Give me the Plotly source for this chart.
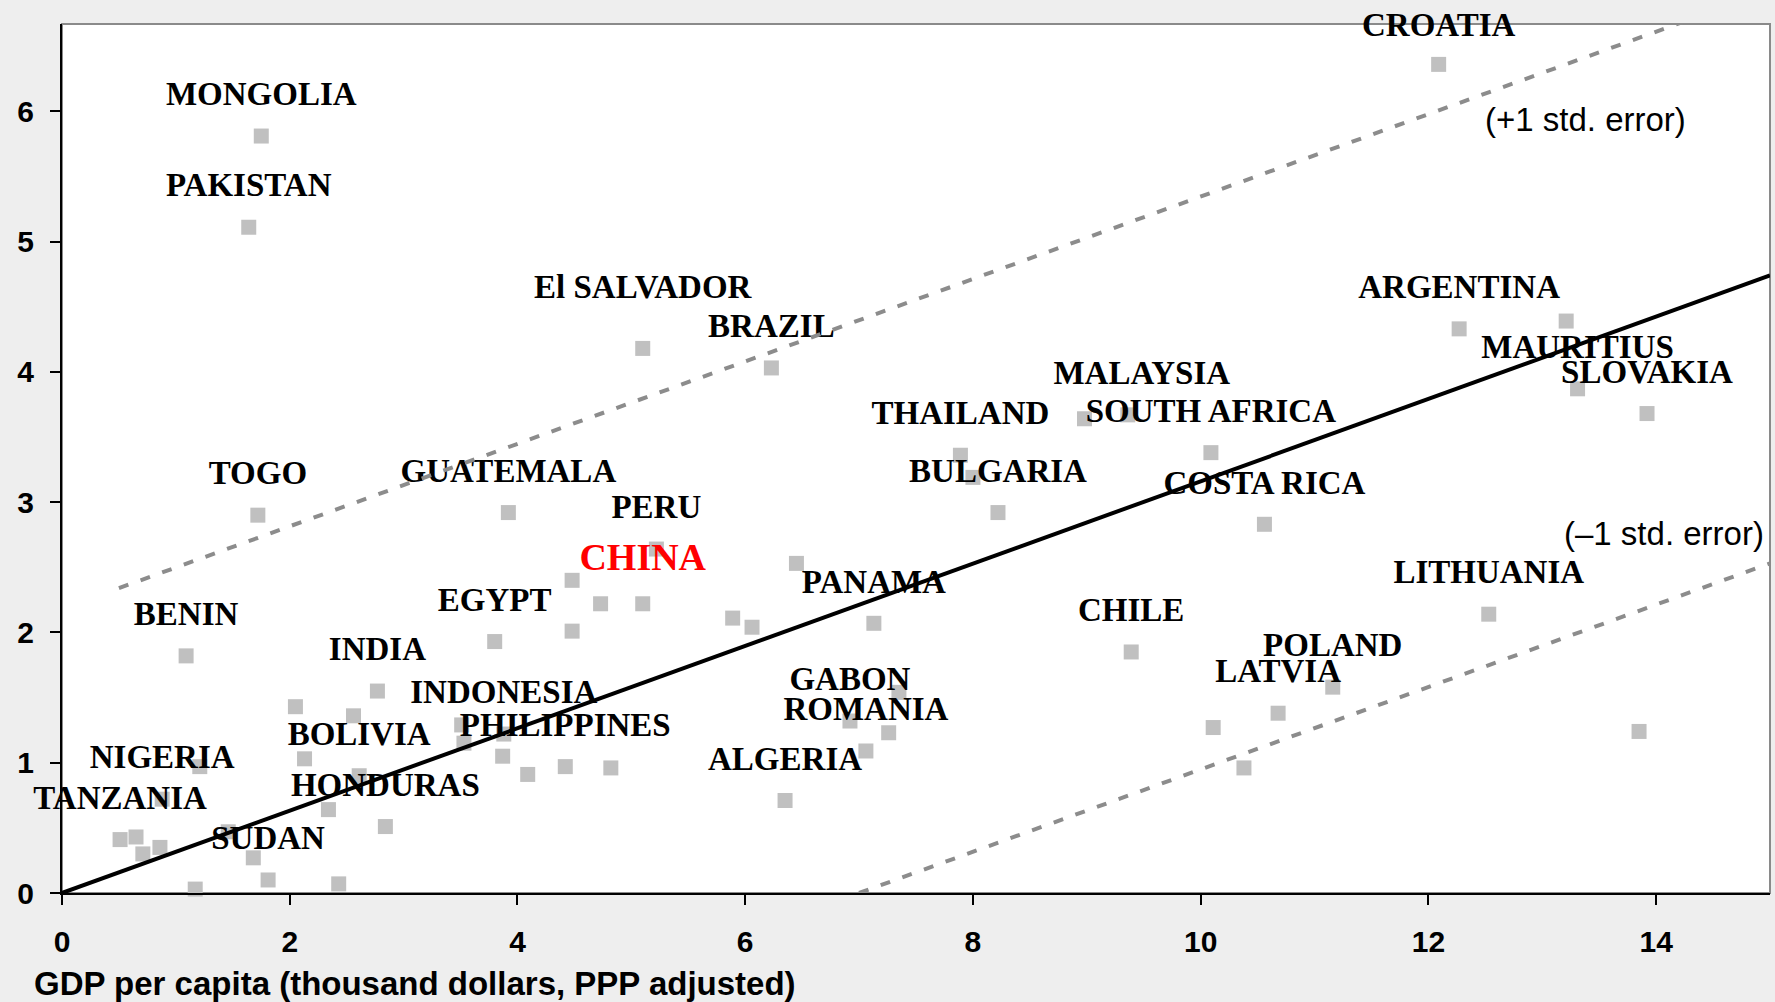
import plotly.graph_objects as go

# ---------------- data ----------------
countries = [
    "MONGOLIA", "PAKISTAN", "El SALVADOR", "BRAZIL", "CROATIA", "ARGENTINA",
    "MAURITIUS", "SLOVAKIA", "MALAYSIA", "THAILAND", "SOUTH AFRICA", "BULGARIA",
    "COSTA RICA", "TOGO", "GUATEMALA", "PERU", "CHINA", "EGYPT", "PANAMA",
    "CHILE", "LITHUANIA", "BENIN", "INDIA", "INDONESIA", "PHILIPPINES",
    "BOLIVIA", "GABON", "ROMANIA", "POLAND", "LATVIA", "ALGERIA", "NIGERIA",
    "TANZANIA", "HONDURAS", "SUDAN",
    "", "", "", "", "", "", "", "", "", "", "", "", "", "", "", "", "", "",
    "", "", "", "", "", "", "", "", "", "", "", "", "",
]
gdp_per_capita = [
    1.75, 1.64, 5.10, 6.23, 12.09, 12.27,
    13.31, 13.92, 9.36, 7.89, 10.09, 8.22,
    10.56, 1.72, 3.92, 5.22, 5.10, 3.80, 7.13,
    9.39, 12.53, 1.09, 2.77, 3.88, 4.42,
    2.61, 6.92, 7.06, 11.16, 10.68, 6.35, 0.88,
    0.51, 2.84, 1.81,
    13.21, 8.98, 8.00, 4.48, 4.73, 4.48, 5.89, 6.06, 6.45, 7.35, 7.26, 2.05,
    2.56, 2.13, 3.51, 3.53, 3.87, 4.09, 4.82, 2.34, 1.21, 0.65, 0.71, 0.86,
    1.68, 2.43, 1.17, 1.46, 10.11, 10.38, 13.85,
]
growth_value = [
    5.81, 5.11, 4.18, 4.03, 6.36, 4.33,
    3.87, 3.68, 3.67, 3.36, 3.38, 2.92,
    2.83, 2.90, 2.92, 2.64, 2.22, 1.93, 2.07,
    1.85, 2.14, 1.82, 1.55, 1.22, 0.97,
    0.90, 1.32, 1.09, 1.58, 1.38, 0.71, 0.72,
    0.41, 0.51, 0.10,
    4.39, 3.64, 3.19, 2.40, 2.22, 2.01, 2.11, 2.04, 2.53, 1.54, 1.23, 1.43,
    1.36, 1.03, 1.29, 1.15, 1.05, 0.91, 0.96, 0.64, 0.97, 0.43, 0.30, 0.35,
    0.27, 0.07, 0.03, 0.47, 1.27, 0.96, 1.24,
]

fit_x = [0.0, 15.0]
fit_y = [0.0, 4.74]
upper_x = [0.50, 14.25]
upper_y = [2.34, 6.69]
lower_x = [7.00, 15.0]
lower_y = [0.00, 2.53]

x_ticks = [0, 2, 4, 6, 8, 10, 12, 14]
y_ticks = [0, 1, 2, 3, 4, 5, 6]
x_title = "GDP per capita (thousand dollars, PPP adjusted)"
upper_note = "(+1 std. error)"
lower_note = "(\u20131 std. error)"
highlight = "CHINA"

# ---------------- layout constants ----------------
W, H = 1775, 1002
M_L, M_R, M_T, M_B = 62, 5, 24, 109
X_RANGE = [0, 15.0]
Y_RANGE = [0, 6.67]
PX_PER_X = (W - M_L - M_R) / (X_RANGE[1] - X_RANGE[0])
PX_PER_Y = (H - M_T - M_B) / (Y_RANGE[1] - Y_RANGE[0])

LABEL_SHIFT_PX = 39
label_shift_exceptions = {"El SALVADOR": 59, "CHINA": 43}
label_xshift_exceptions = {"MALAYSIA": 14}
LABEL_FONT = "Liberation Serif"


def label_font(c):
    return dict(family=LABEL_FONT, size=38 if c == highlight else 33,
                color="#ff0000" if c == highlight else "#000000", weight="bold")


# labels inside the axis range go into a text trace (so the lines are drawn over
# them, as in the reference); any label above the range becomes an annotation
in_x, in_y, in_t, in_c, in_s = [], [], [], [], []
out_labels = []
for c, gx, gy in zip(countries, gdp_per_capita, growth_value):
    if not c:
        continue
    dy = label_shift_exceptions.get(c, LABEL_SHIFT_PX)
    dx = label_xshift_exceptions.get(c, 0)
    ly = gy + dy / PX_PER_Y
    if ly < Y_RANGE[1] - 0.02:
        in_x.append(gx + dx / PX_PER_X)
        in_y.append(ly)
        in_t.append(c)
        in_c.append(label_font(c)["color"])
        in_s.append(label_font(c)["size"])
    else:
        out_labels.append((c, gx, gy, dx, dy))

fig = go.Figure()

fig.add_trace(go.Scatter(
    x=gdp_per_capita, y=growth_value, mode="markers",
    marker=dict(symbol="square", size=15, color="#c0c0c0", line=dict(width=0)),
    cliponaxis=False, hoverinfo="skip", showlegend=False,
))

fig.add_trace(go.Scatter(
    x=in_x, y=in_y, mode="text", text=in_t,
    textposition="middle center",
    textfont=dict(family=LABEL_FONT, size=in_s, color=in_c, weight="bold"),
    cliponaxis=False, hoverinfo="skip", showlegend=False,
))

fig.add_trace(go.Scatter(
    x=upper_x, y=upper_y, mode="lines",
    line=dict(color="#8c8c8c", width=4, dash="10px,13px"),
    hoverinfo="skip", showlegend=False,
))
fig.add_trace(go.Scatter(
    x=lower_x, y=lower_y, mode="lines",
    line=dict(color="#8c8c8c", width=4, dash="10px,13px"),
    hoverinfo="skip", showlegend=False,
))
fig.add_trace(go.Scatter(
    x=fit_x, y=fit_y, mode="lines",
    line=dict(color="#000000", width=4),
    hoverinfo="skip", showlegend=False,
))

for c, gx, gy, dx, dy in out_labels:
    fig.add_annotation(
        x=gx, y=gy, xref="x", yref="y", text=c, showarrow=False,
        xanchor="center", yanchor="middle", xshift=dx, yshift=dy,
        font=label_font(c),
    )

fig.add_annotation(
    x=13.38, y=5.94, xref="x", yref="y", text=upper_note, showarrow=False,
    font=dict(family="Liberation Sans", size=33, color="#000000"),
    xanchor="center", yanchor="middle",
)
fig.add_annotation(
    x=15.0, y=2.76, xref="x", yref="y", text=lower_note, showarrow=False,
    font=dict(family="Liberation Sans", size=33, color="#000000"),
    xanchor="right", yanchor="middle", xshift=-4,
)
fig.add_annotation(
    x=(32 - M_L) / (W - M_L - M_R), y=0, xref="paper", yref="paper",
    text=x_title, showarrow=False, xanchor="left", yanchor="middle", yshift=-90,
    font=dict(family="Liberation Sans", size=33, color="#000000", weight="bold"),
)

fig.add_shape(type="rect", xref="paper", yref="paper", x0=0, x1=1, y0=0, y1=1,
              line=dict(color="#8a8a8a", width=2), layer="below")

fig.update_layout(
    width=W, height=H,
    margin=dict(l=M_L, r=M_R, t=M_T, b=M_B),
    paper_bgcolor="#eeeeee",
    plot_bgcolor="#ffffff",
    showlegend=False,
    xaxis=dict(
        range=X_RANGE, tickvals=x_ticks, ticktext=[str(v) for v in x_ticks],
        ticks="outside", ticklen=10, tickwidth=2, tickcolor="#000000",
        showline=True, linecolor="#000000", linewidth=2,
        showgrid=False, zeroline=False, ticklabelstandoff=11,
        tickfont=dict(family="Liberation Sans", size=30, color="#000000", weight="bold"),
    ),
    yaxis=dict(
        range=Y_RANGE, tickvals=y_ticks, ticktext=[str(v) for v in y_ticks],
        ticks="outside", ticklen=10, tickwidth=2, tickcolor="#000000",
        showline=True, linecolor="#000000", linewidth=2,
        showgrid=False, zeroline=False, ticklabelstandoff=10,
        tickfont=dict(family="Liberation Sans", size=30, color="#000000", weight="bold"),
    ),
)

fig.write_html("out.html", config={"displayModeBar": False},
               post_script="document.body.style.margin='0';")
